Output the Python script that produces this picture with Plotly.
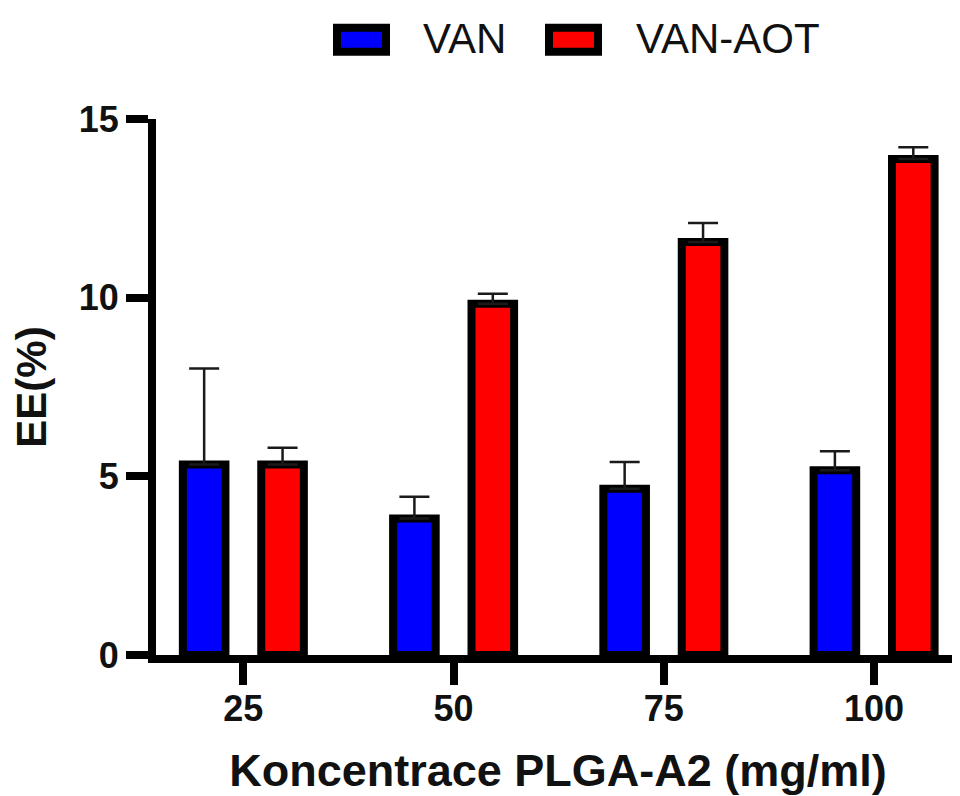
import plotly.graph_objects as go

categories = ["25", "50", "75", "100"]
van = [5.33, 3.82, 4.65, 5.17]
van_err = [2.69, 0.61, 0.75, 0.53]
van_aot = [5.33, 9.83, 11.56, 13.88]
van_aot_err = [0.47, 0.28, 0.53, 0.33]
series_names = ["VAN", "VAN-AOT"]
series_colors = ["#0000FF", "#FF0000"]
y_ticks = [0, 5, 10, 15]

# page body has an 8px margin, so the figure is drawn offset by 8px
OFF = 8
W, H = 952, 788
L, R, T, B = 148, 0, 111, 136
FONT = "Liberation Sans, Arial, sans-serif"

fig = go.Figure()
for name, vals, errs, col in zip(series_names, [van, van_aot], [van_err, van_aot_err], series_colors):
    fig.add_trace(go.Bar(
        x=categories, y=vals, name=name,
        marker=dict(color=col, line=dict(color="black", width=8)),
        error_y=dict(type="data", array=errs, arrayminus=[0] * len(errs), symmetric=False,
                     color="#1a1a1a", thickness=2.5, width=15),
        showlegend=False,
    ))

# custom legend (large boxed swatches like the original), positions in screen px
def px_x(p):
    return (p - OFF - L) / (W - L - R)

def px_y(p):
    return (H - B - (p - OFF)) / (H - T - B)

legend_items = [(337, 386, 421), (549, 598, 634)]
for (x0, x1, tx), name, col in zip(legend_items, series_names, series_colors):
    fig.add_shape(type="rect", xref="paper", yref="paper",
                  x0=px_x(x0), x1=px_x(x1), y0=px_y(51), y1=px_y(27),
                  fillcolor=col, line=dict(color="black", width=8))
    fig.add_annotation(xref="paper", yref="paper", x=px_x(tx), y=px_y(38),
                       text=name, showarrow=False, xanchor="left", yanchor="middle",
                       font=dict(family=FONT, size=42, color="#111111"))

fig.update_layout(
    width=W, height=H,
    margin=dict(l=L, r=R, t=T, b=B),
    paper_bgcolor="white", plot_bgcolor="white",
    barmode="group", bargap=0.2542, bargroupgap=0.4567,
    font=dict(family=FONT, color="black"),
)
fig.update_xaxes(
    type="category", range=[-0.4155, 3.4086],
    showline=True, linecolor="black", linewidth=8,
    ticks="outside", ticklen=22, tickwidth=8, tickcolor="black",
    ticklabelstandoff=-7,
    tickfont=dict(family=FONT, size=36, color="#111111", weight="bold"),
    title=dict(text="<b>Koncentrace PLGA-A2 (mg/ml)</b>",
               font=dict(family=FONT, size=45, color="#111111"), standoff=35),
    showgrid=False, zeroline=False,
)
fig.update_yaxes(
    range=[0, 15], tickvals=y_ticks,
    showline=True, linecolor="black", linewidth=8,
    ticks="outside", ticklen=22, tickwidth=8, tickcolor="black",
    tickfont=dict(family=FONT, size=36, color="#111111", weight="bold"),
    title=dict(text="<b>EE(%)</b>", font=dict(family=FONT, size=42, color="#111111"), standoff=26),
    showgrid=False, zeroline=False,
)

fig.write_html("out.html")
